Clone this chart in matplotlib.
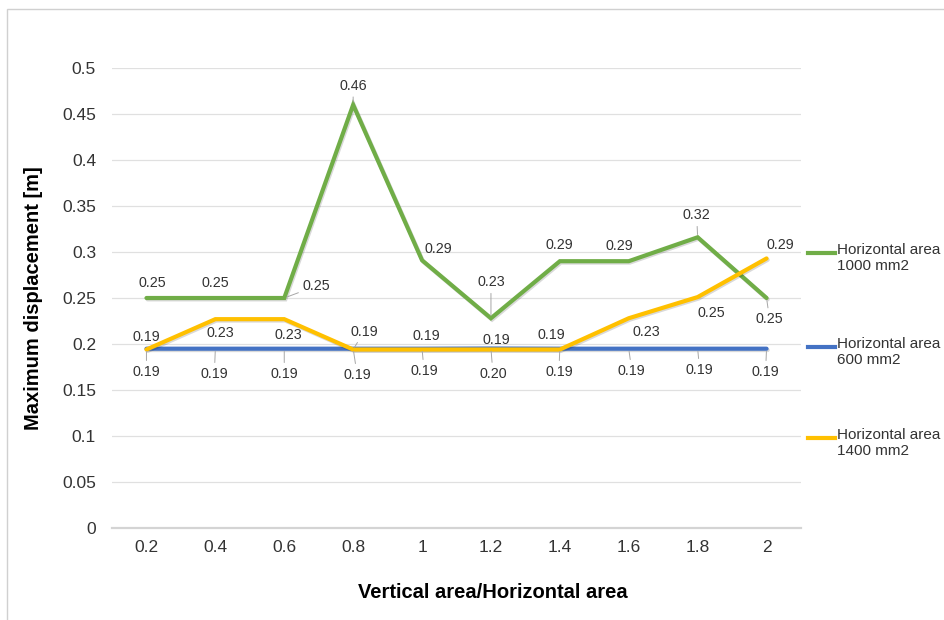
import matplotlib
matplotlib.use("Agg")
import matplotlib.pyplot as plt
import matplotlib.patheffects as pe
from matplotlib.lines import Line2D
from matplotlib.patches import Rectangle

plt.rcParams["font.family"] = ["Liberation Sans", "DejaVu Sans"]

# ---- data -------------------------------------------------------------
ratios = ["0.2", "0.4", "0.6", "0.8", "1", "1.2", "1.4", "1.6", "1.8", "2"]
disp_1000 = [0.25, 0.25, 0.25, 0.46, 0.291, 0.228, 0.29, 0.29, 0.316, 0.25]
disp_600 = [0.1949, 0.1949, 0.1949, 0.1949, 0.1949, 0.1951, 0.1949, 0.1949,
            0.1949, 0.1949]
disp_1400 = [0.194, 0.227, 0.227, 0.194, 0.194, 0.194, 0.194, 0.228, 0.251, 0.293]
y_ticks = [0, 0.05, 0.1, 0.15, 0.2, 0.25, 0.3, 0.35, 0.4, 0.45, 0.5]
series_names = ["Horizontal area\n1000 mm2", "Horizontal area\n600 mm2",
                "Horizontal area\n1400 mm2"]

# ---- label placement (pixel offsets from each point, leader-line flags) --
off_1000 = [(6, 15), (0, 15), (32, 12), (0, 19), (16, 11), (0, 36),
            (-1, 16), (-9, 15), (-1, 22), (3, -21)]
lead_1000 = [0, 0, 1, 1, 0, 1, 0, 0, 1, 1]
off_600 = [(0, -23), (-1, -25), (0, -25), (4, -26), (2, -22), (2, -25),
           (-1, -23), (3, -22), (2, -21), (-1, -23)]
lead_600 = [1] * 10
off_1400 = [(0, 13), (5, -14), (4, -16), (11, 18), (4, 14), (5, 10),
            (-9, 15), (18, -14), (14, -16), (14, 13)]
lead_1400 = [0, 0, 0, 1, 0, 0, 0, 0, 0, 0]

GREEN, BLUE, YELLOW = "#70AD47", "#4472C4", "#FFC000"
TXT = "#333333"

W, H = 944, 620
fig = plt.figure(figsize=(W / 100, H / 100), dpi=100)
fig.patch.set_facecolor("white")

# outer chart frame
fig.patches.append(Rectangle((7 / W, -0.1), 2.0, 1 - 9 / H + 0.1,
                             transform=fig.transFigure, fill=False,
                             edgecolor="#d0d0d0", lw=1.0))

ax = fig.add_axes([112 / W, 1 - 528 / H, (801 - 112) / W, (528 - 68) / H])
x = list(range(len(ratios)))

shadow = [pe.SimpleLineShadow(offset=(0.8, -1.0), shadow_color="#000000",
                              alpha=0.15), pe.Normal()]

series = [
    (disp_600, BLUE, off_600, lead_600, 2),
    (disp_1000, GREEN, off_1000, lead_1000, 3),
    (disp_1400, YELLOW, off_1400, lead_1400, 4),
]
handles = {}
for vals, col, offs, leads, z in series:
    ln, = ax.plot(x, vals, color=col, lw=3.0, zorder=z,
                  solid_joinstyle="miter", solid_capstyle="round",
                  path_effects=shadow)
    handles[col] = ln
    for xi, v, (dx, dy), ld in zip(x, vals, offs, leads):
        kw = {}
        if ld:
            kw["arrowprops"] = dict(arrowstyle="-", color="#a6a6a6", lw=0.7,
                                    shrinkA=1, shrinkB=2)
        ax.annotate(f"{v:.2f}", (xi, v), xytext=(dx, dy),
                    textcoords="offset pixels", ha="center", va="center",
                    fontsize=10.3, color=TXT, zorder=6, **kw)

ax.set_xlim(-0.5, len(ratios) - 0.5)
ax.set_ylim(0, 0.5)
ax.set_xticks(x)
ax.set_xticklabels(ratios)
ax.set_yticks(y_ticks)
ax.set_yticklabels([f"{t:g}" for t in y_ticks])
ax.tick_params(axis="both", length=0, labelsize=12.5, colors=TXT)
ax.tick_params(axis="y", pad=11.5)
ax.tick_params(axis="x", pad=9)
ax.grid(axis="y", color="#e0e0e0", lw=0.9, zorder=0)
ax.set_axisbelow(True)
for s in ["left", "right", "top"]:
    ax.spines[s].set_visible(False)
ax.spines["bottom"].set_color("#d4d4d4")
ax.spines["bottom"].set_linewidth(1.6)

fig.text(34 / W, 1 - 298 / H, "Maximum displacement [m]", rotation=90,
         ha="center", va="center", fontsize=14.5, fontweight="bold",
         color="black")
fig.text(493 / W, 1 - 592 / H, "Vertical area/Horizontal area",
         ha="center", va="center", fontsize=14.5, fontweight="bold",
         color="black")

# legend entries on the right
legend_rows = [(253, GREEN, series_names[0]), (347, BLUE, series_names[1]),
               (438, YELLOW, series_names[2])]
for yy, col, name in legend_rows:
    fig.add_artist(Line2D([808 / W, 835 / W], [1 - yy / H, 1 - yy / H],
                          color=handles[col].get_color(), lw=3.0,
                          transform=fig.transFigure))
    fig.text(837 / W, 1 - (yy - 10) / H, name, ha="left", va="top",
             fontsize=11, color=TXT, linespacing=1.15)

fig.savefig("out.png", dpi=100)
